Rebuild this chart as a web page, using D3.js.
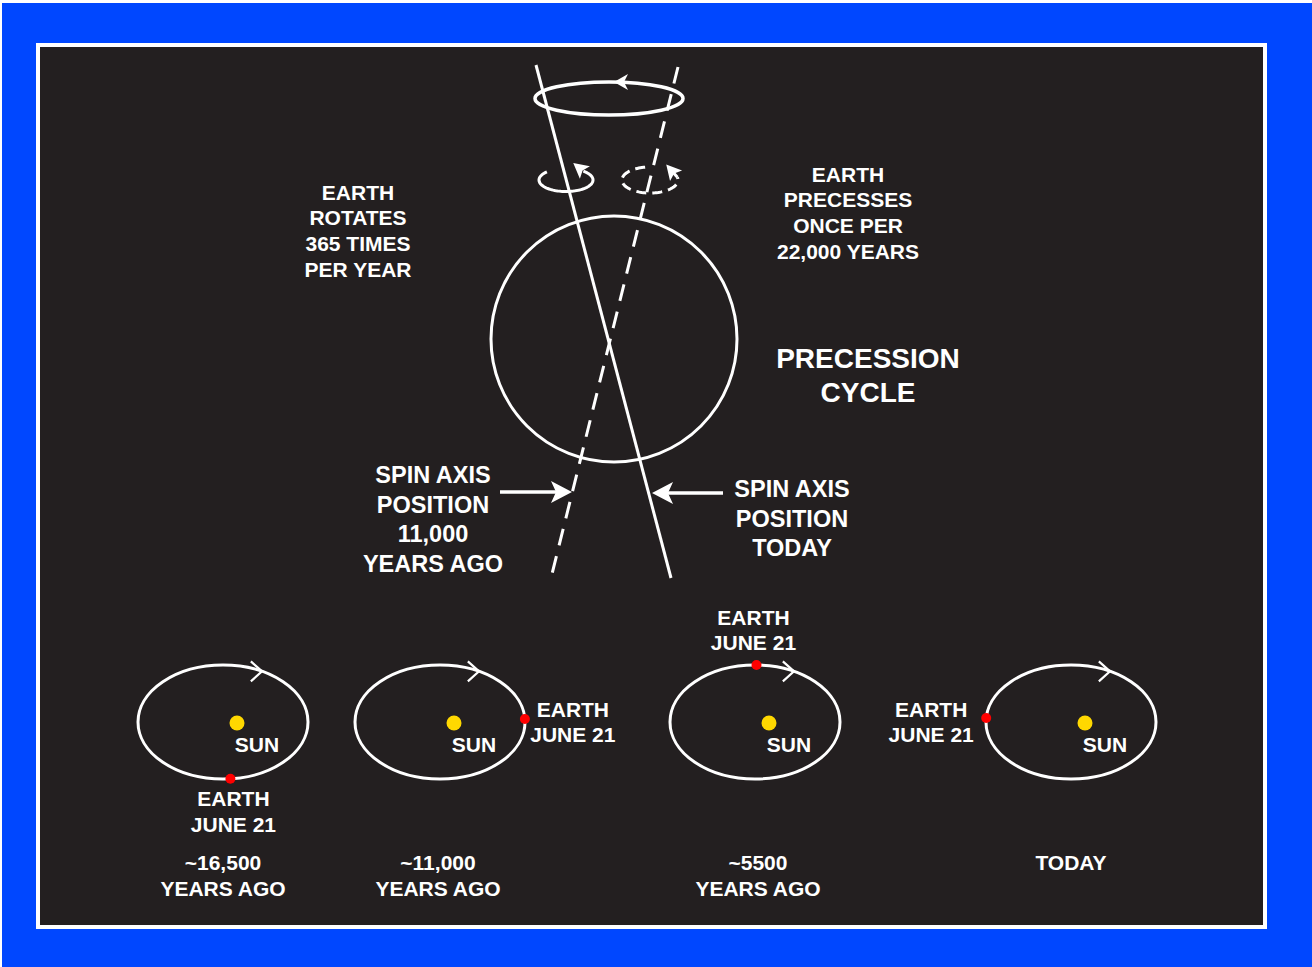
<!DOCTYPE html>
<html><head><meta charset="utf-8">
<script src="https://cdn.jsdelivr.net/npm/d3@7"></script>
<style>html,body{margin:0;padding:0;background:#fff;}svg{display:block;}</style>
</head><body>
<svg id="chart" width="1312" height="967"></svg>
<script>
// ---------- data ----------
const eraKeys = ["16500", "11000", "5500", "0"];
const eraLabels = [["~16,500", "YEARS AGO"], ["~11,000", "YEARS AGO"], ["~5500", "YEARS AGO"], ["TODAY"]];
const earthJuneAngles = [85, -3, -89, 184];          // Earth's June 21 position on orbit (degrees)
const earthLabelSides = ["below", "right", "above", "left"];
const earthLabel = ["EARTH", "JUNE 21"];
const sunLabel = "SUN";
const noteRotates = ["EARTH", "ROTATES", "365 TIMES", "PER YEAR"];
const notePrecesses = ["EARTH", "PRECESSES", "ONCE PER", "22,000 YEARS"];
const titleLines = ["PRECESSION", "CYCLE"];
const axisPastLabel = ["SPIN AXIS", "POSITION", "11,000", "YEARS AGO"];
const axisTodayLabel = ["SPIN AXIS", "POSITION", "TODAY"];

// ---------- setup ----------
const svg = d3.select("#chart");
const WHITE = "#ffffff", BLUE = "#0047ff", DARK = "#231f20";
const FONT = "'Liberation Sans', Arial, Helvetica, sans-serif";

svg.append("rect").attr("x", 2).attr("y", 3).attr("width", 1310).attr("height", 964).attr("fill", BLUE);
svg.append("rect").attr("x", 36).attr("y", 43).attr("width", 1231).attr("height", 886).attr("fill", WHITE);
svg.append("rect").attr("x", 40).attr("y", 47).attr("width", 1223).attr("height", 878).attr("fill", DARK);

const g = svg.append("g");
const rad = d => d * Math.PI / 180;

function textBlock(lines, cx, cyFirst, lh, size, anchor = "middle") {
  g.append("g").selectAll("text").data(lines).join("text")
    .attr("x", cx)
    .attr("y", (d, i) => cyFirst + i * lh + size * 0.36)
    .attr("text-anchor", anchor)
    .attr("font-family", FONT).attr("font-weight", "bold")
    .attr("font-size", size).attr("fill", WHITE)
    .text(d => d);
}

function arrowHead(tipX, tipY, angleDeg, L, W, notch) {
  const a = rad(angleDeg), dx = Math.cos(a), dy = Math.sin(a);
  const px = -dy, py = dx;
  const bx = tipX - L * dx, by = tipY - L * dy;
  const pts = [[tipX, tipY], [bx + W * px, by + W * py], [tipX - (L - notch) * dx, tipY - (L - notch) * dy], [bx - W * px, by - W * py]];
  g.append("path").attr("d", d3.line()(pts) + "Z").attr("fill", WHITE);
}

const line = d3.line();
function ellipseArc(cx, cy, rx, ry, t0, t1, n = 80) {
  return d3.range(n + 1).map(i => {
    const t = rad(t0 + (t1 - t0) * i / n);
    return [cx + rx * Math.cos(t), cy + ry * Math.sin(t)];
  });
}

// ---------- top diagram ----------
const earth = { cx: 614, cy: 339, r: 123 };
g.append("circle").attr("cx", earth.cx).attr("cy", earth.cy).attr("r", earth.r)
  .attr("fill", "none").attr("stroke", WHITE).attr("stroke-width", 3);

// precession ellipse at top
g.append("ellipse").attr("cx", 609).attr("cy", 98.5).attr("rx", 74).attr("ry", 16.5)
  .attr("fill", "none").attr("stroke", WHITE).attr("stroke-width", 3.5);
arrowHead(614, 82, 180, 14, 8, 4);

// spin axes
g.append("line").attr("x1", 536).attr("y1", 65).attr("x2", 671).attr("y2", 578)
  .attr("stroke", WHITE).attr("stroke-width", 3);
g.append("line").attr("x1", 678).attr("y1", 67).attr("x2", 551).attr("y2", 578)
  .attr("stroke", WHITE).attr("stroke-width", 3).attr("stroke-dasharray", "17,11");

// rotation loop (solid)
const loopL = ellipseArc(566, 180, 27, 11.5, -135, -410);
g.append("path").attr("d", line(loopL)).attr("fill", "none").attr("stroke", WHITE).attr("stroke-width", 3);
{
  const e = loopL[loopL.length - 1];
  const a = rad(-141);
  arrowHead(e[0] + 13 * Math.cos(a), e[1] + 13 * Math.sin(a), -141, 15, 8, 3);
}
// precession loop (dashed)
const loopR = ellipseArc(650, 180, 28, 13, -100, -372);
g.append("path").attr("d", line(loopR)).attr("fill", "none").attr("stroke", WHITE).attr("stroke-width", 3)
  .attr("stroke-dasharray", "10,6");
{
  const e = loopR[loopR.length - 1];
  const a = rad(-131);
  arrowHead(e[0] + 17 * Math.cos(a), e[1] + 17 * Math.sin(a), -131, 15, 8, 3);
  g.append("line").attr("x1", e[0]).attr("y1", e[1])
    .attr("x2", e[0] + 6 * Math.cos(a)).attr("y2", e[1] + 6 * Math.sin(a))
    .attr("stroke", WHITE).attr("stroke-width", 3);
}

// pointer arrows
g.append("line").attr("x1", 500).attr("y1", 492).attr("x2", 556).attr("y2", 492).attr("stroke", WHITE).attr("stroke-width", 3.5);
arrowHead(572, 492, 0, 21, 11, 5);
g.append("line").attr("x1", 723).attr("y1", 493).attr("x2", 668).attr("y2", 493).attr("stroke", WHITE).attr("stroke-width", 3.5);
arrowHead(652, 493, 180, 21, 11, 5);

// texts
textBlock(noteRotates, 358, 192, 25.7, 21);
textBlock(notePrecesses, 848, 174, 25.7, 21);
textBlock(titleLines, 868, 358, 34, 28);
textBlock(axisPastLabel, 433, 475, 29.5, 23.5);
textBlock(axisTodayLabel, 792, 489, 29.5, 23.5);

// ---------- orbits ----------
const orbitX = d3.scaleOrdinal().domain(eraKeys).range([223, 440, 755, 1071]);
const orbitY = 722, orbitRx = 85, orbitRy = 57;

eraKeys.forEach((k, i) => {
  const cx = orbitX(k);
  g.append("ellipse").attr("cx", cx).attr("cy", orbitY).attr("rx", orbitRx).attr("ry", orbitRy)
    .attr("fill", "none").attr("stroke", WHITE).attr("stroke-width", 3);
  // direction chevron on top
  const t = -Math.acos(39 / orbitRx);
  const tx = cx + orbitRx * Math.cos(t), ty = orbitY + orbitRy * Math.sin(t);
  const L = 15;
  g.append("path").attr("d", line([
      [tx - L * Math.cos(rad(42)), ty - L * Math.sin(rad(42))],
      [tx, ty],
      [tx - L * Math.cos(rad(42)), ty + L * Math.sin(rad(42))]]))
    .attr("fill", "none").attr("stroke", WHITE).attr("stroke-width", 2.2);
  // sun
  g.append("circle").attr("cx", cx + 14).attr("cy", orbitY + 1).attr("r", 7.5).attr("fill", "#ffd800");
  textBlock([sunLabel], cx + 34, orbitY + 22, 0, 21);
  // earth at June 21
  const a = rad(earthJuneAngles[i]);
  const ex = cx + orbitRx * Math.cos(a), ey = orbitY + orbitRy * Math.sin(a);
  g.append("circle").attr("cx", ex).attr("cy", ey).attr("r", 5).attr("fill", "#ff0000");
  const side = earthLabelSides[i];
  let lx, ly;
  if (side === "below") { lx = ex + 3; ly = ey + 20; }
  else if (side === "right") { lx = ex + 48; ly = ey - 10; }
  else if (side === "above") { lx = ex - 3; ly = ey - 48; }
  else { lx = ex - 55; ly = ey - 9; }
  textBlock(earthLabel, lx, ly, 25.5, 21);
  // era label
  textBlock(eraLabels[i], cx + [0, -2, 3, 0][i], 862, 26, 21);
});
</script>
</body></html>
